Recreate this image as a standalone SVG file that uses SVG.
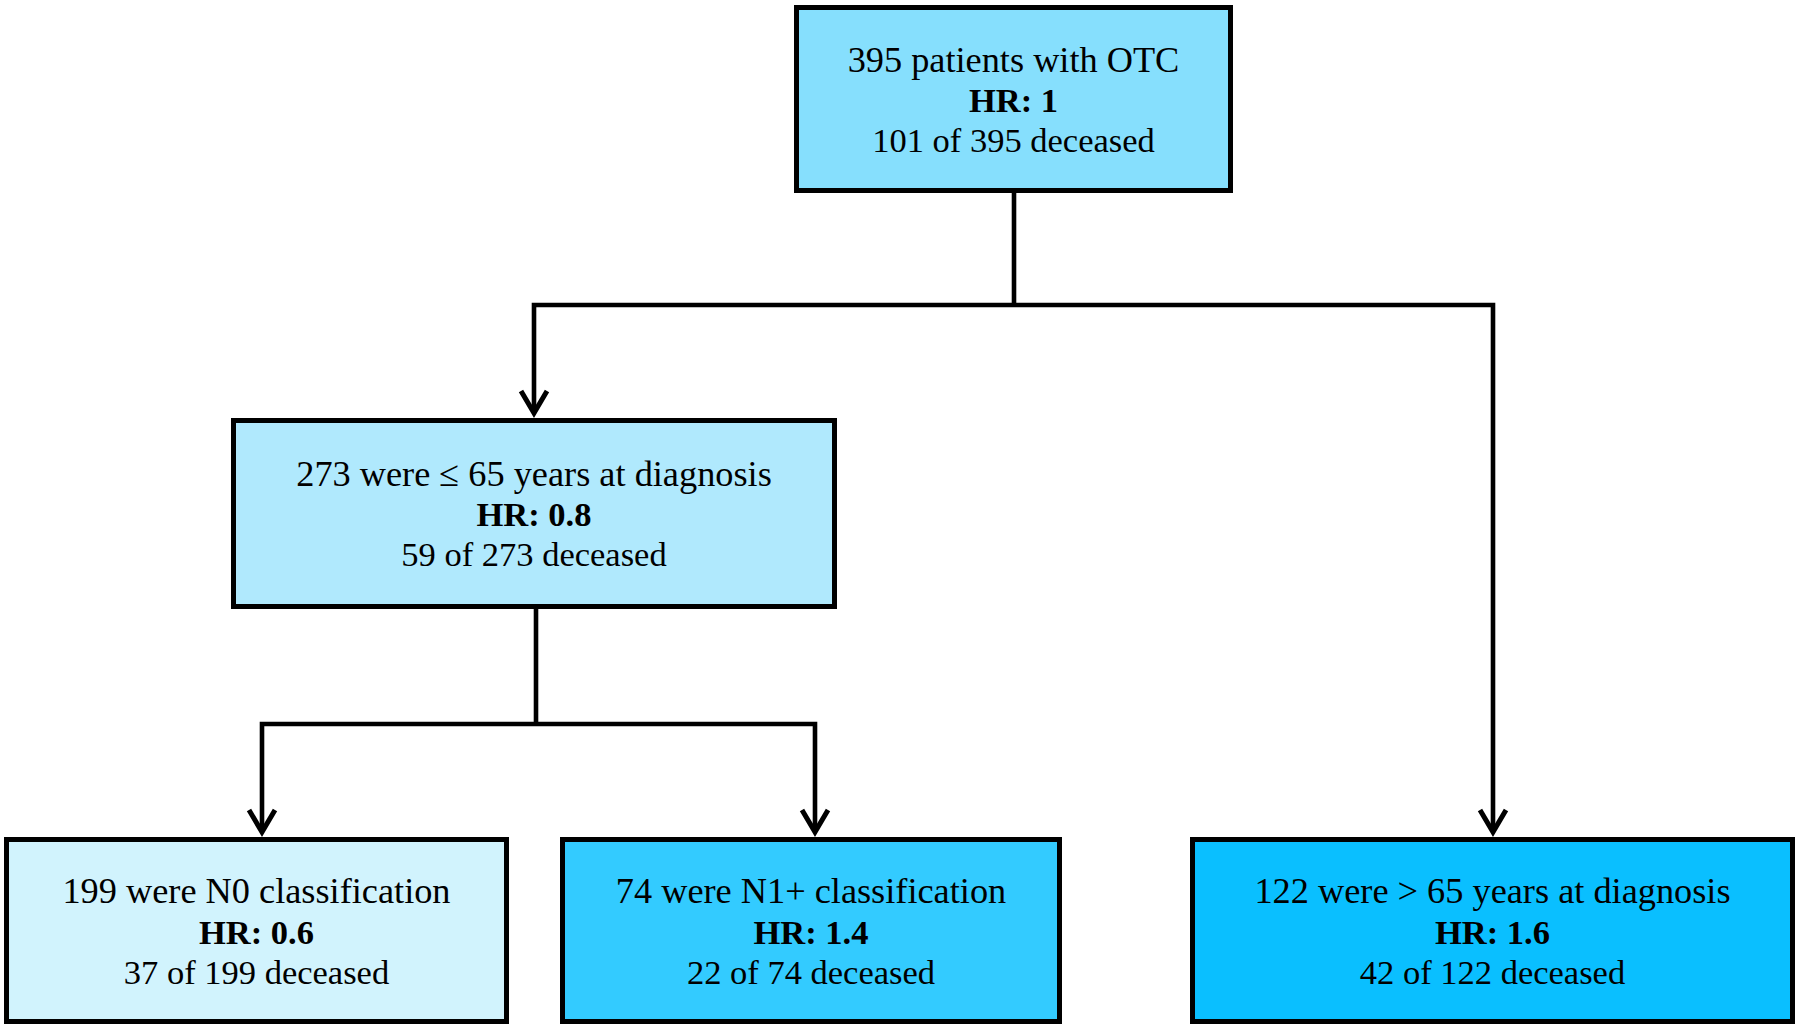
<svg xmlns="http://www.w3.org/2000/svg" width="1800" height="1029" viewBox="0 0 1800 1029">
<style>
.box{stroke:#000;stroke-width:5}
.t{font-family:"Liberation Serif","Times New Roman",serif;font-size:34.5px;fill:#000;text-anchor:middle}
.h{font-size:36.3px}
.b{font-weight:bold}
.c{fill:none;stroke:#000;stroke-width:4.6;stroke-linejoin:miter}
</style>
<defs>
<marker id="arr" markerUnits="userSpaceOnUse" markerWidth="40" markerHeight="40" refX="0" refY="0" orient="auto" overflow="visible">
<path d="M-22,-13 L0,0 L-22,13" fill="none" stroke="#000" stroke-width="5" stroke-linejoin="miter"/>
</marker>
</defs>
<rect width="1800" height="1029" fill="#fff"/>
<g id="connectors">
<path class="c" d="M1014,192 V305"/>
<path class="c" d="M1014,305 H534 V413" marker-end="url(#arr)"/>
<path class="c" d="M1014,305 H1493 V832" marker-end="url(#arr)"/>
<path class="c" d="M536,608 V724"/>
<path class="c" d="M536,724 H262 V832" marker-end="url(#arr)"/>
<path class="c" d="M536,724 H815 V832" marker-end="url(#arr)"/>
</g>
<g id="node-all">
<rect class="box" x="796.5" y="7.5" width="434" height="183" fill="#86dffd"/>
<text class="t h" x="1013.5" y="72">395 patients with OTC</text>
<text class="t b" x="1013.5" y="112">HR: 1</text>
<text class="t" x="1013.5" y="152">101 of 395 deceased</text>
</g>
<g id="node-le65">
<rect class="box" x="233.5" y="420.5" width="601" height="186" fill="#b0e9fd"/>
<text class="t h" x="534" y="486">273 were ≤ 65 years at diagnosis</text>
<text class="t b" x="534" y="526">HR: 0.8</text>
<text class="t" x="534" y="566">59 of 273 deceased</text>
</g>
<g id="node-n0">
<rect class="box" x="6.5" y="839.5" width="500" height="182" fill="#d1f3fd"/>
<text class="t h" x="256.5" y="903">199 were N0 classification</text>
<text class="t b" x="256.5" y="944">HR: 0.6</text>
<text class="t" x="256.5" y="984">37 of 199 deceased</text>
</g>
<g id="node-n1">
<rect class="box" x="562.5" y="839.5" width="497" height="182" fill="#33cbff"/>
<text class="t h" x="811" y="903">74 were N1+ classification</text>
<text class="t b" x="811" y="944">HR: 1.4</text>
<text class="t" x="811" y="984">22 of 74 deceased</text>
</g>
<g id="node-gt65">
<rect class="box" x="1192.5" y="839.5" width="600" height="182" fill="#0abfff"/>
<text class="t h" x="1492.5" y="903">122 were &gt; 65 years at diagnosis</text>
<text class="t b" x="1492.5" y="944">HR: 1.6</text>
<text class="t" x="1492.5" y="984">42 of 122 deceased</text>
</g>
</svg>
